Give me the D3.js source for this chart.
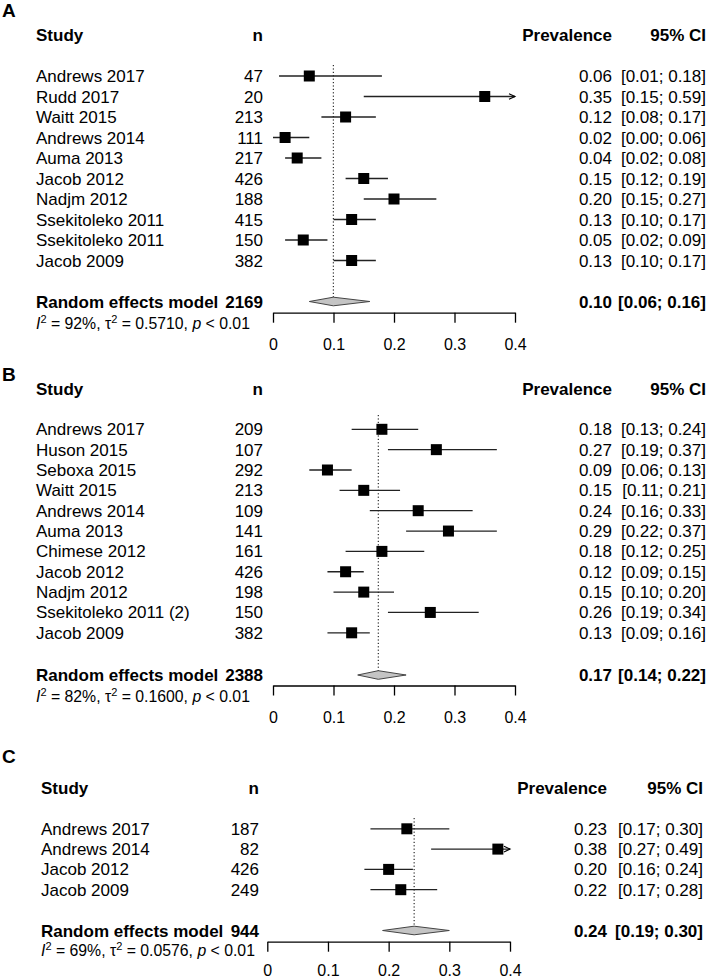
<!DOCTYPE html>
<html>
<head>
<meta charset="utf-8">
<script src="https://cdn.jsdelivr.net/npm/d3@7"></script>
<style>
  html, body { margin: 0; padding: 0; background: #fff; }
  svg { display: block; }
</style>
</head>
<body>
<svg id="chart" width="708" height="978"></svg>
<script>
// ---------------- DATA ----------------
const studiesA = ["Andrews 2017","Rudd 2017","Waitt 2015","Andrews 2014","Auma 2013","Jacob 2012","Nadjm 2012","Ssekitoleko 2011","Ssekitoleko 2011","Jacob 2009"];
const nA    = [47, 20, 213, 111, 217, 426, 188, 415, 150, 382];
const estA  = [0.06, 0.35, 0.12, 0.02, 0.04, 0.15, 0.20, 0.13, 0.05, 0.13];
const lowA  = [0.01, 0.15, 0.08, 0.00, 0.02, 0.12, 0.15, 0.10, 0.02, 0.10];
const highA = [0.18, 0.59, 0.17, 0.06, 0.08, 0.19, 0.27, 0.17, 0.09, 0.17];
const pooledA = {n: 2169, est: 0.0997, low: 0.06, high: 0.16, i2: "92%", tau2: "0.5710", p: "0.01"};

const studiesB = ["Andrews 2017","Huson 2015","Seboxa 2015","Waitt 2015","Andrews 2014","Auma 2013","Chimese 2012","Jacob 2012","Nadjm 2012","Ssekitoleko 2011 (2)","Jacob 2009"];
const nB    = [209, 107, 292, 213, 109, 141, 161, 426, 198, 150, 382];
const estB  = [0.18, 0.27, 0.09, 0.15, 0.24, 0.29, 0.18, 0.12, 0.15, 0.26, 0.13];
const lowB  = [0.13, 0.19, 0.06, 0.11, 0.16, 0.22, 0.12, 0.09, 0.10, 0.19, 0.09];
const highB = [0.24, 0.37, 0.13, 0.21, 0.33, 0.37, 0.25, 0.15, 0.20, 0.34, 0.16];
const pooledB = {n: 2388, est: 0.174, low: 0.14, high: 0.22, i2: "82%", tau2: "0.1600", p: "0.01"};

const studiesC = ["Andrews 2017","Andrews 2014","Jacob 2012","Jacob 2009"];
const nC    = [187, 82, 426, 249];
const estC  = [0.23, 0.38, 0.20, 0.22];
const lowC  = [0.17, 0.27, 0.16, 0.17];
const highC = [0.30, 0.49, 0.24, 0.28];
const pooledC = {n: 944, est: 0.242, low: 0.19, high: 0.30, i2: "69%", tau2: "0.0576", p: "0.01"};

const tickValues = [0, 0.1, 0.2, 0.3, 0.4];
const tickLabels = ["0", "0.1", "0.2", "0.3", "0.4"];
const headers = {study: "Study", n: "n", prev: "Prevalence", ci: "95% CI", model: "Random effects model"};

// ---------------- LAYOUT ----------------
const panels = [
  {label: "A", studies: studiesA, n: nA, est: estA, low: lowA, high: highA, pooled: pooledA,
   labelY: 17, headerY: 35, row0: 76, step: 20.5, randY: 301.5, statsY: 323.3, axisY: 312.7, tickOff: 37,
   x0: 273, x1: 515, studyX: 36, nX: 263, prevX: 612, ciX: 706, refTop: 65},
  {label: "B", studies: studiesB, n: nB, est: estB, low: lowB, high: highB, pooled: pooledB,
   labelY: 381, headerY: 389.3, row0: 429.3, step: 20.35, randY: 675, statsY: 696.7, axisY: 685.5, tickOff: 37,
   x0: 273, x1: 515, studyX: 36, nX: 263, prevX: 612, ciX: 706, refTop: 415},
  {label: "C", studies: studiesC, n: nC, est: estC, low: lowC, high: highC, pooled: pooledC,
   labelY: 763, headerY: 788.3, row0: 828.8, step: 20.3, randY: 930.5, statsY: 950, axisY: 941.7, tickOff: 34.8,
   x0: 267.3, x1: 510, studyX: 41, nX: 259, prevX: 607, ciX: 703, refTop: 818}
];

const FONT = "'Liberation Sans', Arial, Helvetica, sans-serif";
const FS = 17;       // main text size
const BASE = 6;      // center -> baseline offset for 17px
const f2 = d3.format(".2f");
const svg = d3.select("#chart").attr("font-family", FONT);

panels.forEach(p => {
  const g = svg.append("g");
  const x = d3.scaleLinear().domain([0, 0.4]).range([p.x0, p.x1]);
  const rowY = i => p.row0 + p.step * i;

  // panel letter
  g.append("text").attr("x", 2).attr("y", p.labelY)
    .attr("font-size", 19).attr("font-weight", "bold").text(p.label);

  // headers
  const hdr = g.append("g").attr("font-size", FS).attr("font-weight", "bold");
  hdr.append("text").attr("x", p.studyX).attr("y", p.headerY + BASE).text(headers.study);
  hdr.append("text").attr("x", p.nX).attr("y", p.headerY + BASE).attr("text-anchor", "end").text(headers.n);
  hdr.append("text").attr("x", p.prevX).attr("y", p.headerY + BASE).attr("text-anchor", "end").text(headers.prev);
  hdr.append("text").attr("x", p.ciX).attr("y", p.headerY + BASE).attr("text-anchor", "end").text(headers.ci);

  // reference (pooled) dotted line
  g.append("line")
    .attr("x1", x(p.pooled.est)).attr("x2", x(p.pooled.est))
    .attr("y1", p.refTop).attr("y2", p.randY)
    .attr("stroke", "#000").attr("stroke-width", 1).attr("stroke-dasharray", "1.2,2.2");

  const rows = p.studies.map((s, i) => ({s, n: p.n[i], est: p.est[i], low: p.low[i], high: p.high[i], y: rowY(i)}));

  // text columns
  const txt = g.append("g").attr("font-size", FS);
  txt.selectAll("text.study").data(rows).join("text").attr("class", "study")
    .attr("x", p.studyX).attr("y", d => d.y + BASE).text(d => d.s);
  txt.selectAll("text.n").data(rows).join("text").attr("class", "n")
    .attr("x", p.nX).attr("y", d => d.y + BASE).attr("text-anchor", "end").text(d => d.n);
  txt.selectAll("text.prev").data(rows).join("text").attr("class", "prev")
    .attr("x", p.prevX).attr("y", d => d.y + BASE).attr("text-anchor", "end").text(d => f2(d.est));
  txt.selectAll("text.ci").data(rows).join("text").attr("class", "ci")
    .attr("x", p.ciX).attr("y", d => d.y + BASE).attr("text-anchor", "end")
    .text(d => "[" + f2(d.low) + "; " + f2(d.high) + "]");

  // CI lines
  const [dmin, dmax] = x.domain();
  g.selectAll("line.ci").data(rows).join("line").attr("class", "ci")
    .attr("x1", d => x(Math.max(d.low, dmin))).attr("x2", d => x(Math.min(d.high, dmax)))
    .attr("y1", d => d.y).attr("y2", d => d.y)
    .attr("stroke", "#222").attr("stroke-width", 1.3);
  // arrows for truncated CIs
  g.selectAll("path.arrow").data(rows.filter(d => d.high > dmax)).join("path").attr("class", "arrow")
    .attr("d", d => `M${x(dmax) - 6},${d.y - 2.8}L${x(dmax)},${d.y}L${x(dmax) - 6},${d.y + 2.8}`)
    .attr("fill", "none").attr("stroke", "#000").attr("stroke-width", 1.1);
  // squares
  const SQ = 11;
  g.selectAll("rect.sq").data(rows).join("rect").attr("class", "sq")
    .attr("x", d => x(d.est) - SQ / 2).attr("y", d => d.y - SQ / 2)
    .attr("width", SQ).attr("height", SQ).attr("fill", "#000");

  // random effects row
  const r = g.append("g").attr("font-size", FS).attr("font-weight", "bold");
  r.append("text").attr("x", p.studyX).attr("y", p.randY + BASE).text(headers.model);
  r.append("text").attr("x", p.nX).attr("y", p.randY + BASE).attr("text-anchor", "end").text(p.pooled.n);
  r.append("text").attr("x", p.prevX).attr("y", p.randY + BASE).attr("text-anchor", "end").text(f2(p.pooled.est));
  r.append("text").attr("x", p.ciX).attr("y", p.randY + BASE).attr("text-anchor", "end")
    .text("[" + f2(p.pooled.low) + "; " + f2(p.pooled.high) + "]");

  // diamond
  const dh = 4.3;
  g.append("path")
    .attr("d", `M${x(p.pooled.low)},${p.randY}L${x(p.pooled.est)},${p.randY - dh}L${x(p.pooled.high)},${p.randY}L${x(p.pooled.est)},${p.randY + dh}Z`)
    .attr("fill", "#c4c4c4").attr("stroke", "#444").attr("stroke-width", 1);

  // heterogeneity stats
  const st = g.append("text").attr("x", p.studyX).attr("y", p.statsY + 5.5).attr("font-size", 15.8);
  st.append("tspan").attr("font-style", "italic").text("I");
  st.append("tspan").attr("font-size", 11).attr("dy", -6).text("2");
  st.append("tspan").attr("dy", 6).text(" = " + p.pooled.i2 + ", \u03C4");
  st.append("tspan").attr("font-size", 11).attr("dy", -6).text("2");
  st.append("tspan").attr("dy", 6).text(" = " + p.pooled.tau2 + ", ");
  st.append("tspan").attr("font-style", "italic").text("p");
  st.append("tspan").text(" < " + p.pooled.p);

  // axis
  const axis = d3.axisBottom(x).tickValues(tickValues)
    .tickFormat((d, i) => tickLabels[i]).tickSizeInner(10).tickSizeOuter(0).tickPadding(0);
  const ag = g.append("g").attr("transform", `translate(0,${p.axisY})`).call(axis);
  ag.select(".domain").attr("stroke", "#000").attr("stroke-width", 1.3);
  ag.selectAll(".tick line").attr("stroke", "#000").attr("stroke-width", 1.3);
  ag.selectAll(".tick text").attr("font-family", FONT).attr("font-size", 16).attr("fill", "#000")
    .attr("y", p.tickOff).attr("dy", null);
});
</script>
</body>
</html>
